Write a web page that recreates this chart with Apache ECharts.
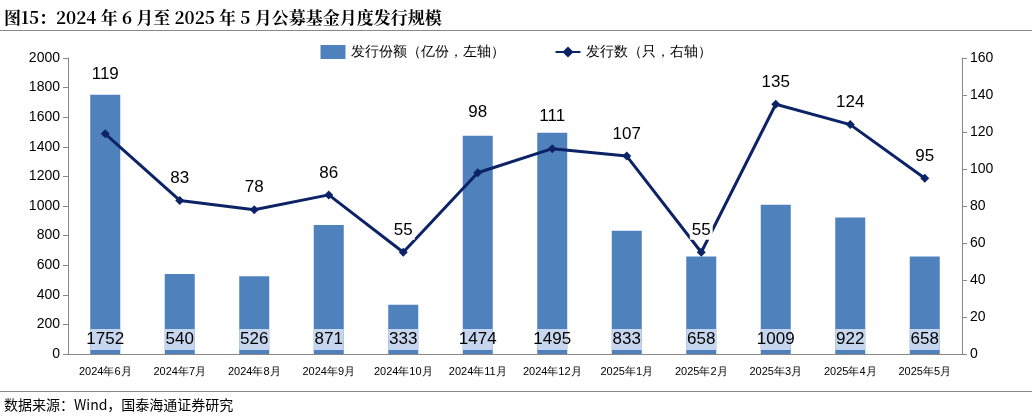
<!DOCTYPE html><html><head><meta charset="utf-8"><script src="https://cdn.jsdelivr.net/npm/echarts@6/dist/echarts.min.js"></script>
<style>body{margin:0;background:#fff}#t{position:absolute;left:4px;top:4px;font:bold 17px "Noto Serif CJK SC","Noto Sans CJK SC",serif;color:#000}#c{width:1032px;height:416px}#s{position:absolute;left:4px;top:394px;font:14px "Noto Sans CJK SC",serif}#l1{position:absolute;left:0;top:30px;width:1032px;border-top:1.5px solid #888}#l2{position:absolute;left:0;top:391px;width:1032px;border-top:1.5px solid #888}</style></head><body>
<div id="c"></div><div id="t">图15：2024 年 6 月至 2025 年 5 月公募基金月度发行规模</div><div id="l1"></div><div id="l2"></div><div id="s">数据来源：Wind，国泰海通证券研究</div>
<script>
const categories=['2024年6月','2024年7月','2024年8月','2024年9月','2024年10月','2024年11月','2024年12月','2025年1月','2025年2月','2025年3月','2025年4月','2025年5月'];
const shares=[1752,540,526,871,333,1474,1495,833,658,1009,922,658];
const counts=[119,83,78,86,55,98,111,107,55,135,124,95];
const labelLift={0:46,5:46,6:18};
const c=echarts.init(document.getElementById('c'));
c.setOption({animation:false,
legend:{top:40,left:'center',itemGap:50,textStyle:{fontSize:14,color:'#000'},data:[{name:'发行份额（亿份，左轴）',icon:'rect',itemWidth:24,itemHeight:10},{name:'发行数（只，右轴）'}]},
grid:{left:68,right:70,top:58,bottom:62},
xAxis:{type:'category',data:categories,axisLine:{lineStyle:{color:'#888'}},axisTick:{lineStyle:{color:'#888'}},axisLabel:{color:'#000',fontSize:11,margin:12,interval:0}},
yAxis:[{type:'value',min:0,max:2000,interval:200,splitLine:{show:false},axisLine:{show:true,lineStyle:{color:'#888'}},axisTick:{show:true},axisLabel:{color:'#000',fontSize:14,formatter:v=>String(v)}},
{type:'value',min:0,max:160,interval:20,splitLine:{show:false},axisLine:{show:true,lineStyle:{color:'#888'}},axisTick:{show:true},axisLabel:{color:'#000',fontSize:14}}],
series:[{name:'发行份额（亿份，左轴）',type:'bar',data:shares,barWidth:30,itemStyle:{color:'#4f81bd'},
label:{show:true,position:'insideBottom',distance:4,color:'#000',fontSize:17,backgroundColor:'#c5d6ee',width:30,align:'center',padding:[2,0]}},
{name:'发行数（只，右轴）',type:'line',yAxisIndex:1,z:5,data:counts.map((v,i)=>labelLift[i]?{value:v,label:{distance:labelLift[i]}}:v),symbol:'diamond',symbolSize:9,lineStyle:{color:'#0c2366',width:3},itemStyle:{color:'#0c2366'},
label:{show:true,position:'top',distance:8,color:'#000',fontSize:17,backgroundColor:'#fff',padding:[1,2]}}]});
</script></body></html>
